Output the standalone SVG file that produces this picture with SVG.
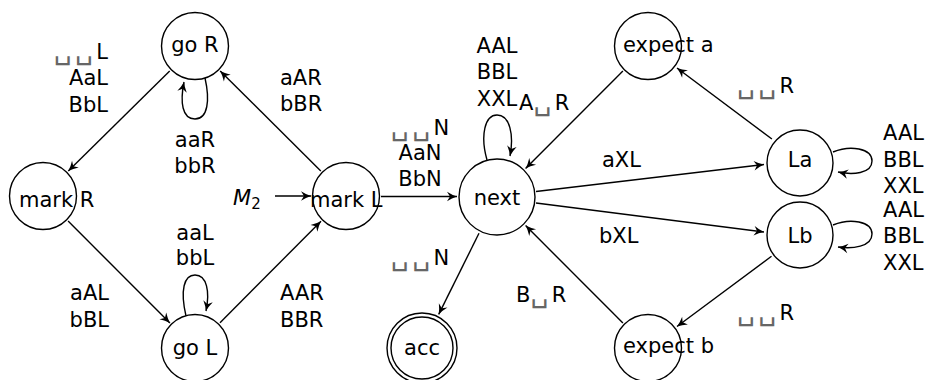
<svg xmlns="http://www.w3.org/2000/svg" width="929" height="380" viewBox="0 0 929 380">
<style>
text{font-family:"DejaVu Sans","Liberation Sans",sans-serif;font-size:21px;fill:#000}
.m{text-anchor:middle}
.e{text-anchor:end}
.b{fill:#666;font-size:28px;letter-spacing:3.5px}
circle{fill:#fff;stroke:#000;stroke-width:1.4}
.edge{fill:none;stroke:#000;stroke-width:1.4;marker-end:url(#arr)}
</style>
<defs>
<marker id="arr" markerUnits="userSpaceOnUse" viewBox="-11 -6 12 12" refX="0" refY="0" markerWidth="12" markerHeight="12" orient="auto">
<path d="M0,0 Q-5,-1.6 -10,-4.8 L-7,0 L-10,4.8 Q-5,1.6 0,0 Z" fill="#000"/>
</marker>
</defs>
<g id="connectors">
<path class="edge" d="M169.7,70.9 L68.3,171.1"/>
<path class="edge" d="M320.8,171 L220.2,71"/>
<path class="edge" d="M68.1,221.1 L169.9,322.9"/>
<path class="edge" d="M220,322.8 L321,221.2"/>
<path class="edge" d="M275,196 L311,196"/>
<path class="edge" d="M381,196.5 L457,196.5"/>
<path class="edge" d="M622.9,71.1 L525.6,168.4"/>
<path class="edge" d="M536,191.5 L764,164.5"/>
<path class="edge" d="M536,203 L764,232"/>
<path class="edge" d="M771.9,139 L677,68"/>
<path class="edge" d="M771.5,256.2 L677,326.5"/>
<path class="edge" d="M622.9,322.9 L525.6,225.6"/>
<path class="edge" d="M479,233.3 L438.7,314.4"/>
<path class="edge" d="M205,78 C210,100 208,119 195,119 C182,119 180,102 184,82"/>
<path class="edge" d="M186,316 C180,290 184,275 195,275 C207,275 210,292 206,311"/>
<path class="edge" d="M487,160 C480,135 485,115 497,115 C510,115 514,135 510,156"/>
<path class="edge" d="M833,152 C850,145 872,148 872,161 C872,174 852,175 838,172"/>
<path class="edge" d="M833,225 C850,218 872,221 872,234 C872,247 852,249 838,247"/>
</g>
<g id="goR"><circle cx="195" cy="46" r="33.5"/><text class="m" x="195" y="52">go R</text></g>
<g id="markR"><circle cx="43" cy="196" r="33.5"/><text x="19" y="207">mark R</text></g>
<g id="goL"><circle cx="195" cy="348" r="33.5"/><text class="m" x="195" y="355">go L</text></g>
<g id="markL"><circle cx="346" cy="196" r="33.5"/><text x="310" y="207">mark L</text></g>
<g id="next"><circle cx="497" cy="197" r="38"/><text class="m" x="497" y="205">next</text></g>
<g id="acc"><circle cx="422" cy="348" r="35"/><circle cx="422" cy="348" r="31"/><text class="m" x="422" y="355">acc</text></g>
<g id="expectA"><circle cx="648" cy="46" r="33.5"/><text x="623" y="52">expect a</text></g>
<g id="La"><circle cx="800" cy="163" r="33"/><text class="m" x="800" y="167">La</text></g>
<g id="Lb"><circle cx="800" cy="235" r="33"/><text class="m" x="800" y="243">Lb</text></g>
<g id="expectB"><circle cx="648" cy="348" r="33.5"/><text x="623" y="353">expect b</text></g>
<g id="labels">
<text class="e" x="108" y="59"><tspan class="b">␣␣</tspan>L</text>
<text class="e" x="108" y="85">AaL</text>
<text class="e" x="108" y="112">BbL</text>
<text class="m" x="195" y="147">aaR</text>
<text class="m" x="195" y="173">bbR</text>
<text x="280" y="85">aAR</text>
<text x="280" y="111">bBR</text>
<text class="m" x="195" y="240">aaL</text>
<text class="m" x="195" y="265">bbL</text>
<text class="e" x="109" y="300">aAL</text>
<text class="e" x="109" y="327">bBL</text>
<text x="280" y="300">AAR</text>
<text x="280" y="327">BBR</text>
<text x="233" y="205"><tspan font-style="italic">M</tspan><tspan font-size="15" dy="4">2</tspan></text>
<text class="m" x="420" y="135"><tspan class="b">␣␣</tspan>N</text>
<text class="m" x="420" y="160">AaN</text>
<text class="m" x="420" y="186">BbN</text>
<text class="m" x="497" y="53">AAL</text>
<text class="m" x="497" y="79">BBL</text>
<text class="m" x="497" y="106">XXL</text>
<text x="519" y="110">A<tspan class="b">␣</tspan>R</text>
<text x="602" y="167">aXL</text>
<text x="599" y="243">bXL</text>
<text class="m" x="420" y="265"><tspan class="b">␣␣</tspan>N</text>
<text x="516" y="302">B<tspan class="b">␣</tspan>R</text>
<text x="737" y="93"><tspan class="b">␣␣</tspan>R</text>
<text x="737" y="320"><tspan class="b">␣␣</tspan>R</text>
<text x="883" y="140">AAL</text>
<text x="883" y="167">BBL</text>
<text x="883" y="193">XXL</text>
<text x="883" y="217">AAL</text>
<text x="883" y="243">BBL</text>
<text x="883" y="270">XXL</text>
</g>
</svg>
